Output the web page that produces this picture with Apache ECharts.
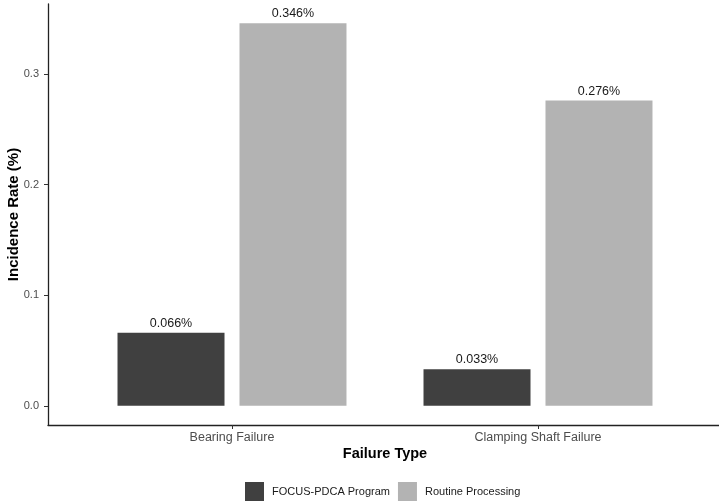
<!DOCTYPE html>
<html>
<head>
<meta charset="utf-8">
<script src="https://cdn.jsdelivr.net/npm/echarts@6/dist/echarts.min.js"></script>
<style>html,body{margin:0;padding:0;background:#fff;}#c{width:719px;height:501px;}</style>
</head>
<body>
<div id="c"></div>
<script>
const categories = ['Bearing Failure', 'Clamping Shaft Failure'];
const focusPdca = [0.066, 0.033];
const routine = [0.346, 0.276];
const yTicks = [0, 0.1, 0.2, 0.3];
const seriesNames = ['FOCUS-PDCA Program', 'Routine Processing'];

const FONT = 'Liberation Sans, Arial, Helvetica, sans-serif';
const chart = echarts.init(document.getElementById('c'), null, {renderer: 'canvas'});
const valueLabel = {
  show: true, position: 'top', distance: 3,
  fontFamily: FONT, fontSize: 12.5, color: '#1a1a1a',
  formatter: p => p.value.toFixed(3) + '%'
};
chart.setOption({
  animation: false,
  backgroundColor: '#ffffff',
  textStyle: {fontFamily: FONT},
  grid: [
    {left: 79, width: 612, top: 4, height: 421, containLabel: false, outerBoundsMode: 'none'},
    {left: 48, right: 0, top: 4, height: 421, containLabel: false, outerBoundsMode: 'none'}
  ],
  xAxis: [
    {
      type: 'category', data: categories, gridIndex: 0,
      axisLine: {show: false, onZero: false},
      axisTick: {show: true, alignWithLabel: true, length: 4, lineStyle: {color: '#333', width: 1}},
      axisLabel: {color: '#4d4d4d', fontSize: 12.5, margin: 6, fontFamily: FONT},
      splitLine: {show: false},
      name: 'Failure Type', nameLocation: 'middle', nameGap: 21.5, nameMoveOverlap: false,
      nameTextStyle: {fontSize: 14.5, fontWeight: 'bold', color: '#000', fontFamily: FONT}
    },
    {
      type: 'value', gridIndex: 1, min: 0, max: 1,
      axisLine: {show: true, onZero: false, lineStyle: {color: '#222', width: 1.3}},
      axisTick: {show: false}, axisLabel: {show: false}, splitLine: {show: false}
    }
  ],
  yAxis: [
    {
      type: 'value', gridIndex: 0, min: -0.0173, max: 0.3633, offset: 31,
      axisLine: {show: true, onZero: false, lineStyle: {color: '#222', width: 1.3}},
      axisTick: {show: true, customValues: yTicks, length: 4, lineStyle: {color: '#333', width: 1}},
      axisLabel: {customValues: yTicks, formatter: v => v.toFixed(1), color: '#4d4d4d', fontSize: 11, margin: 9, fontFamily: FONT},
      splitLine: {show: false},
      name: 'Incidence Rate (%)', nameLocation: 'middle', nameGap: 27, nameRotate: 90, nameMoveOverlap: false,
      nameTextStyle: {fontSize: 15, fontWeight: 'bold', color: '#000', fontFamily: FONT}
    },
    {
      type: 'value', gridIndex: 1, show: false
    }
  ],
  legend: {
    left: 245, top: 482, padding: 0,
    icon: 'rect', itemWidth: 19, itemHeight: 19, itemGap: 8,
    data: seriesNames,
    textStyle: {fontSize: 11, color: '#1a1a1a', fontFamily: FONT, padding: [0, 0, 0, 3]}
  },
  series: [
    {
      name: seriesNames[0], type: 'bar', xAxisIndex: 0, yAxisIndex: 0,
      data: focusPdca, barWidth: 107, barGap: '14%',
      itemStyle: {color: '#404040'}, label: valueLabel
    },
    {
      name: seriesNames[1], type: 'bar', xAxisIndex: 0, yAxisIndex: 0,
      data: routine, barWidth: 107, barGap: '14%',
      itemStyle: {color: '#b3b3b3'}, label: valueLabel
    }
  ]
});
</script>
</body>
</html>
